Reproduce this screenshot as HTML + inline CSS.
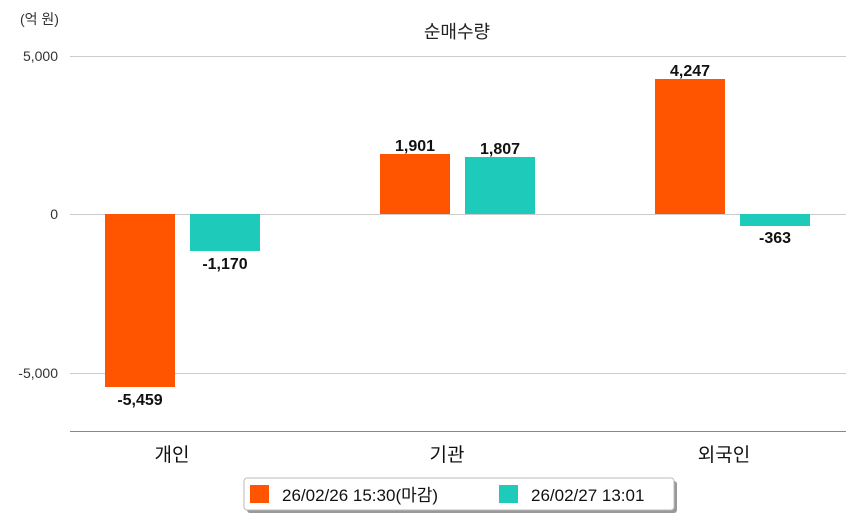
<!DOCTYPE html>
<html><head><meta charset="utf-8"><style>
body{margin:0;background:#fff;}
svg text{font-family:"Liberation Sans","Noto Sans CJK KR",sans-serif;}
</style></head><body>
<svg width="854" height="520" xmlns="http://www.w3.org/2000/svg">
<rect width="854" height="520" fill="#fff"/>
<text x="20" y="24" font-size="14" fill="#333">(억 원)</text>
<text x="457" y="38" font-size="18" fill="#222" text-anchor="middle">순매수량</text>
<g stroke="#ccc" stroke-width="1">
<line x1="70" y1="56.5" x2="846" y2="56.5"/>
<line x1="70" y1="214.5" x2="846" y2="214.5"/>
<line x1="70" y1="373.5" x2="846" y2="373.5"/>
</g>
<line x1="70" y1="431.5" x2="846" y2="431.5" stroke="#888"/>
<g font-size="14" fill="#333" text-anchor="end">
<text x="58" y="61">5,000</text>
<text x="58" y="219">0</text>
<text x="58" y="378">-5,000</text>
</g>
<g fill="#ff5500">
<rect x="105" y="214" width="70" height="173"/>
<rect x="380" y="154" width="70" height="60"/>
<rect x="655" y="79" width="70" height="135"/>
</g>
<g fill="#1ecbbb">
<rect x="190" y="214" width="70" height="37"/>
<rect x="465" y="157" width="70" height="57"/>
<rect x="740" y="214" width="70" height="12"/>
</g>
<g font-size="16" fill="#111" text-anchor="middle" font-weight="bold">
<text x="140" y="405">-5,459</text>
<text x="225" y="269">-1,170</text>
<text x="415" y="151">1,901</text>
<text x="500" y="154">1,807</text>
<text x="690" y="76">4,247</text>
<text x="775" y="243">-363</text>
</g>
<g font-size="19" fill="#111" text-anchor="middle">
<text x="172" y="461">개인</text>
<text x="447" y="461">기관</text>
<text x="724" y="461">외국인</text>
</g>
<rect x="247" y="481" width="430" height="32" rx="3" fill="#999"/>
<rect x="244" y="478" width="430" height="32" rx="3" fill="#fff" stroke="#bbb"/>
<rect x="250" y="485" width="19" height="18" fill="#ff5500"/>
<text x="282" y="501" font-size="17" fill="#111">26/02/26 15:30(마감)</text>
<rect x="499" y="485" width="19" height="18" fill="#1ecbbb"/>
<text x="531" y="501" font-size="17" fill="#111">26/02/27 13:01</text>
</svg>
</body></html>
